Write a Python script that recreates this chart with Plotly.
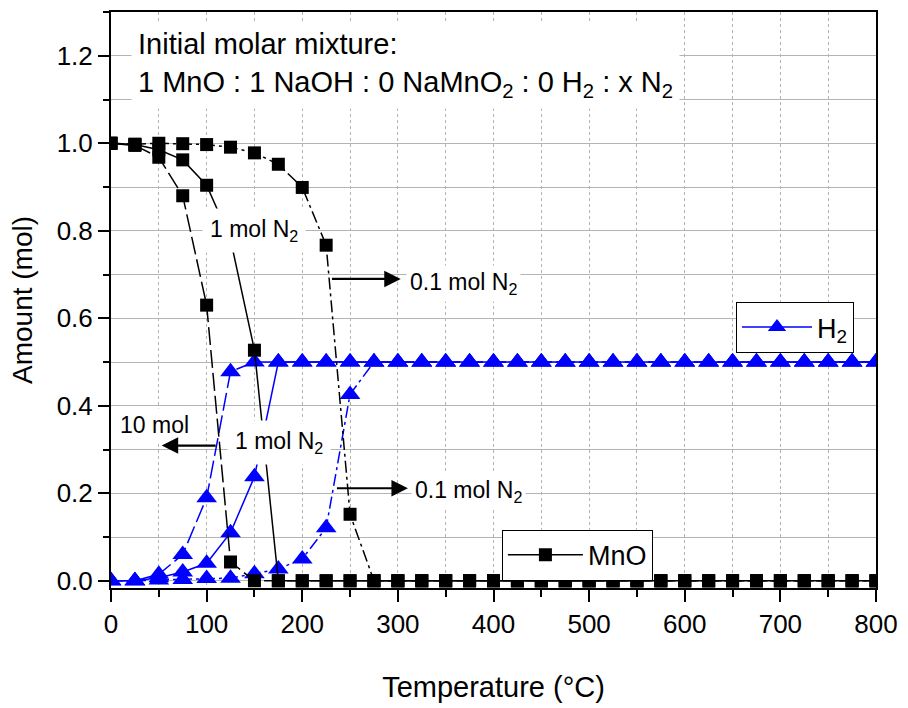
import plotly.graph_objects as go

# ---------------- data ----------------
temps = [0, 25, 50, 75, 100, 125, 150, 175, 200, 225, 250, 275, 300, 325, 350, 375, 400,
         425, 450, 475, 500, 525, 550, 575, 600, 625, 650, 675, 700, 725, 750, 775, 800]

mno_10mol = [1.0, 0.995, 0.968, 0.880, 0.630, 0.043, 0.0, 0.0, 0.0, 0.0, 0.0, 0.0, 0.0, 0.0, 0.0, 0.0, 0.0,
             0.0, 0.0, 0.0, 0.0, 0.0, 0.0, 0.0, 0.0, 0.0, 0.0, 0.0, 0.0, 0.0, 0.0, 0.0, 0.0]
mno_1mol = [1.0, 0.997, 0.985, 0.962, 0.904, 0.780, 0.527, 0.0, 0.0, 0.0, 0.0, 0.0, 0.0, 0.0, 0.0, 0.0, 0.0,
            0.0, 0.0, 0.0, 0.0, 0.0, 0.0, 0.0, 0.0, 0.0, 0.0, 0.0, 0.0, 0.0, 0.0, 0.0, 0.0]
mno_01mol = [1.0, 0.998, 1.0, 0.999, 0.997, 0.991, 0.978, 0.952, 0.899, 0.767, 0.152, 0.0, 0.0, 0.0, 0.0, 0.0, 0.0,
             0.0, 0.0, 0.0, 0.0, 0.0, 0.0, 0.0, 0.0, 0.0, 0.0, 0.0, 0.0, 0.0, 0.0, 0.0, 0.0]

h2_10mol = [0.0, 0.0, 0.015, 0.060, 0.190, 0.478, 0.5, 0.5, 0.5, 0.5, 0.5, 0.5, 0.5, 0.5, 0.5, 0.5, 0.5,
            0.5, 0.5, 0.5, 0.5, 0.5, 0.5, 0.5, 0.5, 0.5, 0.5, 0.5, 0.5, 0.5, 0.5, 0.5, 0.5]
h2_1mol = [0.0, 0.0, 0.007, 0.020, 0.040, 0.110, 0.238, 0.5, 0.5, 0.5, 0.5, 0.5, 0.5, 0.5, 0.5, 0.5, 0.5,
           0.5, 0.5, 0.5, 0.5, 0.5, 0.5, 0.5, 0.5, 0.5, 0.5, 0.5, 0.5, 0.5, 0.5, 0.5, 0.5]
h2_01mol = [0.0, 0.0, 0.002, 0.003, 0.005, 0.006, 0.016, 0.027, 0.050, 0.121, 0.426, 0.5, 0.5, 0.5, 0.5, 0.5, 0.5,
            0.5, 0.5, 0.5, 0.5, 0.5, 0.5, 0.5, 0.5, 0.5, 0.5, 0.5, 0.5, 0.5, 0.5, 0.5, 0.5]

x_ticks = [0, 100, 200, 300, 400, 500, 600, 700, 800]
y_ticks = [0.0, 0.2, 0.4, 0.6, 0.8, 1.0, 1.2]

FONT = "Liberation Sans, Arial, sans-serif"
BLUE = "#0000ff"
BLACK = "#000000"
DASH = "18px,5px"
DASHDOT = "12px,4px,3px,4px"

fig = go.Figure()

h2_series = [(h2_10mol, DASH, False), (h2_1mol, "solid", True), (h2_01mol, DASHDOT, False)]
mno_series = [(mno_10mol, DASH, False), (mno_1mol, "solid", True), (mno_01mol, DASHDOT, False)]

for vals, dash, show in h2_series:
    fig.add_trace(go.Scatter(
        x=temps, y=vals, mode="lines+markers", name="H<sub>2</sub>",
        line=dict(color=BLUE, width=1.5, dash=dash),
        marker=dict(symbol="triangle-up", size=18, color=BLUE),
        showlegend=show, legend="legend2"))

for vals, dash, show in mno_series:
    fig.add_trace(go.Scatter(
        x=temps, y=vals, mode="lines+markers", name="MnO",
        line=dict(color=BLACK, width=1.5, dash=dash),
        marker=dict(symbol="square", size=13, color=BLACK),
        showlegend=show, legend="legend"))

ann_font = dict(family=FONT, size=23, color="black")
annotations = [
    dict(x=21, y=1.178, xanchor="left", yanchor="middle", align="left",
         text="Initial molar mixture:<br>1 MnO : 1 NaOH : 0 NaMnO<sub>2</sub> : 0 H<sub>2</sub> : x N<sub>2</sub>",
         font=dict(family=FONT, size=29, color="black"), bgcolor="white", borderpad=6),
    dict(x=150, y=0.80, text="1 mol N<sub>2</sub>", font=ann_font, bgcolor="white", borderpad=7),
    dict(x=176, y=0.315, text="1 mol N<sub>2</sub>", font=ann_font, bgcolor="white", borderpad=7),
    dict(x=45, y=0.356, text="10 mol", font=ann_font, bgcolor="white", borderpad=3),
    dict(x=309, y=0.68, xanchor="left", text="0.1 mol N<sub>2</sub>", font=ann_font, bgcolor="white", borderpad=3),
    dict(x=314, y=0.205, xanchor="left", text="0.1 mol N<sub>2</sub>", font=ann_font, bgcolor="white", borderpad=3),
]
for a in annotations:
    a.update(xref="x", yref="y", showarrow=False)
    fig.add_annotation(**a)

arrows = [
    (303, 0.690, 229.5, 0.690),
    (310.5, 0.2115, 234.7, 0.2115),
    (53, 0.309, 111, 0.309),
]
for xh, yh, xt, yt in arrows:
    fig.add_annotation(x=xh, y=yh, ax=xt, ay=yt, xref="x", yref="y", axref="x", ayref="y",
                       text="", showarrow=True, arrowhead=2, arrowsize=1.5, arrowwidth=2.2,
                       arrowcolor="black", standoff=0, startstandoff=0)

fig.update_layout(
    width=908, height=708,
    margin=dict(l=111, r=26, t=10, b=115),
    paper_bgcolor="white", plot_bgcolor="white",
    font=dict(family=FONT, color="black"),
    legend=dict(x=0.511, y=0.101, xanchor="left", yanchor="top", itemwidth=75,
                bgcolor="white", bordercolor="black", borderwidth=1,
                font=dict(family=FONT, size=27, color="black")),
    legend2=dict(x=0.817, y=0.4966, xanchor="left", yanchor="top", itemwidth=70,
                 bgcolor="white", bordercolor="black", borderwidth=1,
                 font=dict(family=FONT, size=27, color="black")),
)

fig.update_xaxes(
    range=[0, 800], tickvals=x_ticks, ticktext=[str(v) for v in x_ticks],
    ticks="outside", ticklen=12, tickwidth=2, tickcolor="black", ticklabeloverflow="allow",
    showline=True, linewidth=2, linecolor="black", mirror=True,
    showgrid=True, gridcolor="#b4b4b4", gridwidth=1, griddash="dot",
    minor=dict(dtick=50, tick0=0, ticks="outside", ticklen=7, tickwidth=2, tickcolor="black",
               showgrid=True, gridcolor="#b4b4b4", gridwidth=1, griddash="dot"),
    zeroline=False,
    tickfont=dict(family=FONT, size=26, color="black"),
    title=dict(text="Temperature (°C)", font=dict(family=FONT, size=29, color="black"), standoff=38),
)
fig.update_yaxes(
    range=[-0.0165, 1.3], tickvals=y_ticks, ticktext=[f"{v:.1f}" for v in y_ticks],
    ticks="outside", ticklen=11, tickwidth=2, tickcolor="black",
    showline=True, linewidth=2, linecolor="black", mirror=True,
    showgrid=True, gridcolor="#b4b4b4", gridwidth=1,
    minor=dict(dtick=0.1, tick0=0, ticks="outside", ticklen=6, tickwidth=2, tickcolor="black",
               showgrid=True, gridcolor="#b4b4b4", gridwidth=1),
    zeroline=False,
    tickfont=dict(family=FONT, size=26, color="black"),
    title=dict(text="Amount (mol)", font=dict(family=FONT, size=28, color="black"), standoff=16),
)

# remove the default 8px page margin so the 908x708 figure fills the window exactly
fig.write_html("out.html", config={"displayModeBar": False},
               post_script="document.body.style.margin='0';document.body.style.overflow='hidden';")
